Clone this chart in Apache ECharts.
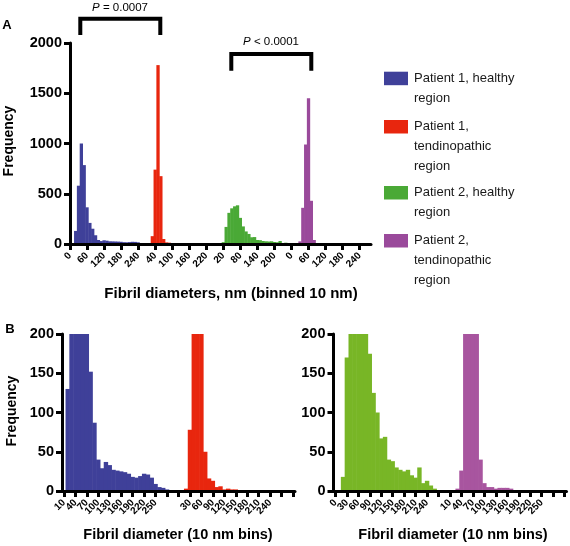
<!DOCTYPE html>
<html><head><meta charset="utf-8">
<script src="https://cdn.jsdelivr.net/npm/echarts@6/dist/echarts.min.js"></script>
<style>html,body{margin:0;padding:0;background:#fff}#c{width:570px;height:546px}</style>
</head><body><div id="c"></div>
<script>
// ---- data: frequency per 10 nm bin, bins 0,10,...,300 nm ----
const binNm = [0,10,20,30,40,50,60,70,80,90,100,110,120,130,140,150,160,170,180,190,200,210,220,230,240,250,260,270,280,290,300];
const p1Healthy = [0,0,130,580,1000,785,365,210,152,87,40,29,37,33,27,26,25,24,22,18,17,19,22,21,17,9,5,4,2,1,1];
const p1Tendino = [0,0,3,78,740,1780,675,50,16,13,5,6,2,3,2,2,1,0,0,0,0,0,0,0,0,0,0,0,0,0,0];
const p2Healthy = [0,0,18,170,310,355,375,385,260,175,125,100,67,69,40,38,30,27,25,27,20,17,30,10,13,7,3,1,0,0,0];
const p2Tendino = [0,0,3,26,360,990,1450,430,40,10,5,5,3,4,4,4,3,0,0,0,0,0,0,0,0,0,0,0,0,0,0];

const groupNames = ['Patient 1, healthy\nregion','Patient 1,\ntendinopathic\nregion','Patient 2, healthy\nregion','Patient 2,\ntendinopathic\nregion'];
const colorsA = ['#3f4099','#e8260e','#4aa936','#9a4a9b'];
const colorsB = ['#3f4099','#e8260e','#78b626','#a8559f'];

// tick labels
const ticksA = ['0','60','120','180','240','40','100','160','220','20','80','140','200','0','60','120','180','240'];
const ticksBL = ['10','40','70','100','130','160','190','220','250','','','30','60','90','120','150','180','210','240','',''];
const ticksBR = ['0','30','60','90','120','150','180','210','240','','10','40','70','100','130','160','190','220','250','',''];

const yTicksA = [0,500,1000,1500,2000];
const yTicksB = [0,50,100,150,200];

// ---- build ----
const FONT = 'Arial, "Liberation Sans", sans-serif';
const N_A = 107, N_B = 61;
const STEP_A = 6, STEP_B = 3;
function place(values, n, offset, lastBin) {
  const out = new Array(n).fill(null);
  values.forEach((y, b) => {
    if (b > lastBin) return;
    const i = offset + b;
    if (i >= 0 && i < n) out[i] = y;
  });
  return out;
}
const cats = n => Array.from({length:n}, (_, i) => String(i));

function xAxis(gridIndex, n, step, ticks, boundaryGap) {
  const show = idx => idx % step === 0 && idx / step < ticks.length;
  return {
    type:'category', gridIndex, data: cats(n), boundaryGap, z: 10,
    axisLine:{show:true, lineStyle:{color:'#000', width:3}},
    axisTick:{show:true, interval:(i)=>show(i), alignWithLabel:true, length:6, lineStyle:{color:'#000', width:3}},
    axisLabel:{show:true, interval:0, rotate:45, margin:10, hideOverlap:false,
      formatter:(v)=>{const i=Number(v); return show(i) ? ticks[i/step] : '';},
      color:'#000', fontSize:10, fontWeight:'bold', fontFamily:FONT},
    splitLine:{show:false}
  };
}
function yAxis(gridIndex, ticks) {
  return {
    type:'value', gridIndex, min:ticks[0], max:ticks[ticks.length-1], interval:ticks[1]-ticks[0], z:10,
    axisLine:{show:true, lineStyle:{color:'#000', width:3}},
    axisTick:{show:true, length:6, lineStyle:{color:'#000', width:3}},
    axisLabel:{color:'#000', fontSize:14.5, fontWeight:'bold', fontFamily:FONT, margin:8, formatter:(v)=>String(v)},
    splitLine:{show:false}
  };
}
function bar(name, data, xi, color, stack, w) {
  return {type:'bar', name, data, xAxisIndex:xi, yAxisIndex:xi, stack, barWidth:w, barGap:'0%',
    clip:true, itemStyle:{color, borderWidth:0}, silent:true, animation:false};
}

const groups = [p1Healthy, p1Tendino, p2Healthy, p2Tendino];
const offsA = [0, 26, 52, 78];
const series = [];
groups.forEach((g, k) => series.push(bar(groupNames[k], place(g, N_A, offsA[k], 25), 0, colorsA[k], 'a', 3.3)));
series.push(bar(groupNames[0], place(p1Healthy, N_B, -1, 30), 1, colorsB[0], 'bl', 4.4));
series.push(bar(groupNames[1], place(p1Tendino, N_B, 30, 30), 1, colorsB[1], 'bl', 4.4));
series.push(bar(groupNames[2], place(p2Healthy, N_B, 0, 29), 2, colorsB[2], 'br', 4.4));
series.push(bar(groupNames[3], place(p2Tendino, N_B, 30, 30), 2, colorsB[3], 'br', 4.4));

const txt = (text, x, y, font, extra) => Object.assign({type:'text', x, y, silent:true,
  style:{text, fill:'#000', font, textAlign:'center', textVerticalAlign:'middle'}}, extra||{});
const ptxt = (t, x, y) => ({type:'text', x, y, silent:true, style:{text:'{i|P} ' + t, fill:'#000', fontSize:11.5, fontFamily:FONT,
  textAlign:'center', textVerticalAlign:'middle', rich:{i:{fontStyle:'italic', fontSize:11.5, fontFamily:FONT}}}});

const graphic = [
  txt('A', 7, 25, 'bold 13px ' + FONT),
  txt('B', 10, 329, 'bold 13px ' + FONT),
  ptxt('= 0.0007', 120, 8),
  ptxt('< 0.0001', 271, 42),
  {type:'polyline', silent:true, shape:{points:[[80.3,35],[80.3,18.7],[160.3,18.7],[160.3,35]]}, style:{stroke:'#000', lineWidth:4, fill:null}},
  {type:'polyline', silent:true, shape:{points:[[231.3,70.7],[231.3,54],[311.3,54],[311.3,70.7]]}, style:{stroke:'#000', lineWidth:4, fill:null}},
  txt('Frequency', 9, 141, 'bold 14px ' + FONT, {rotation:Math.PI/2}),
  txt('Fibril diameters, nm (binned 10 nm)', 231, 294, 'bold 15px ' + FONT),
  txt('Frequency', 12, 411, 'bold 14px ' + FONT, {rotation:Math.PI/2}),
  txt('Fibril diameter (10 nm bins)', 178, 535, 'bold 14.5px ' + FONT),
  txt('Fibril diameter (10 nm bins)', 453, 535, 'bold 14.5px ' + FONT)
];

// legend (drawn as rect + text)
const legendTops = [71.7, 120, 186, 234];
groupNames.forEach((nm, k) => {
  graphic.push({type:'rect', silent:true, shape:{x:384, y:legendTops[k], width:24, height:13.5}, style:{fill:colorsA[k]}});
  graphic.push({type:'text', silent:true, x:414, y:legendTops[k] + 6.75 - 9.9,
    style:{text:nm, fill:'#1a1a1a', font:'13px ' + FONT, lineHeight:19.8, textAlign:'left', textVerticalAlign:'top'}});
});

const chart = echarts.init(document.getElementById('c'), null, {renderer:'canvas'});
chart.setOption({
  animation:false,
  backgroundColor:'#fff',
  grid:[
    {left:70, top:43, width:301, height:201, containLabel:false, outerBoundsMode:'none'},
    {left:62, top:334, width:233, height:157, containLabel:false, outerBoundsMode:'none'},
    {left:333.5, top:334, width:233, height:157, containLabel:false, outerBoundsMode:'none'}
  ],
  xAxis:[xAxis(0, N_A, STEP_A, ticksA, false), xAxis(1, N_B, STEP_B, ticksBL, true), xAxis(2, N_B, STEP_B, ticksBR, true)],
  yAxis:[yAxis(0, yTicksA), yAxis(1, yTicksB), yAxis(2, yTicksB)],
  series,
  graphic
});
</script></body></html>
